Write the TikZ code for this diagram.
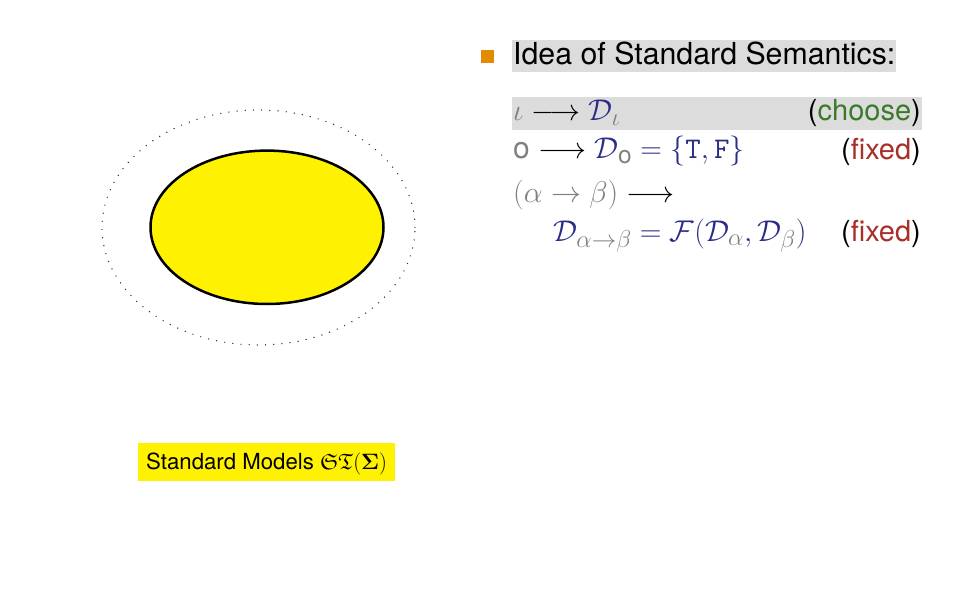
\RequirePackage{fix-cm}
\documentclass[tikz,border=0pt]{standalone}
\usepackage{amsmath,amssymb}
\usepackage[no-math]{fontspec}
\setmainfont{TeX Gyre Heros}
\usetikzlibrary{shapes.geometric}
\DeclareMathSizes{30}{30}{24.5}{18}
\DeclareMathSizes{22.2}{22.2}{16}{12}
\definecolor{ellyellow}{HTML}{FFF200}
\definecolor{hlgray}{HTML}{DCDCDC}
\definecolor{bulorange}{HTML}{E08B00}
\definecolor{tgray}{HTML}{808080}
\definecolor{dblue}{HTML}{2B2B88}
\definecolor{cgreen}{HTML}{3B7A2B}
\definecolor{fred}{HTML}{A83028}
\newcommand\ty[1]{{\color{tgray}#1}}
\newcommand\dd[1]{{\color{dblue}#1}}
\tikzset{
  bodytext/.style={inner sep=0pt, font=\fontsize{29}{34}\selectfont},
  mathtext/.style={inner sep=0pt, font=\fontsize{30}{36}\selectfont},
  dottedell/.style={ellipse, draw=black!85, line width=1.4pt, line cap=round, dash pattern=on 0pt off 8.2pt, inner sep=0pt},
  modelell/.style={ellipse, draw=black, line width=2.5pt, fill=ellyellow, inner sep=0pt}
}
\begin{document}
\begin{tikzpicture}[x=1pt,y=-1pt]
\useasboundingbox (0,0) rectangle (975,591);
% left part
\node[dottedell, minimum width=313pt, minimum height=235pt] (outer) at (258.5,227.5) {};
\node[modelell, minimum width=233pt, minimum height=153.4pt] (models) at (267,227.3) {};
\node[fill=ellyellow, inner xsep=8pt, inner ysep=0pt, text height=26pt, text depth=12pt, anchor=base west, font=\fontsize{22.2}{26}\selectfont] (lbl) at (138,469) {Standard Models $\mathfrak{ST}(\mathbf{\Sigma})$};
% right part
\node[fill=bulorange, minimum size=13pt, inner sep=0pt] (bullet) at (487.5,56.5) {};
\node[fill=hlgray, inner xsep=1pt, inner ysep=0pt, text height=25pt, text depth=7pt, anchor=base west, font=\fontsize{30.3}{36}\selectfont] (head) at (512,65) {Idea of Standard Semantics:};
\node[fill=hlgray, minimum width=410pt, minimum height=33pt, inner sep=0pt, anchor=north west] (rowbg) at (512,97) {};
\node[mathtext, anchor=base west] (r1) at (513,121) {$\ty{\iota}\longrightarrow\dd{\mathcal{D}_{\ty{\iota}}}$};
\node[bodytext, anchor=base east] (c1) at (921,121) {(\textcolor{cgreen}{choose})};
\node[mathtext, anchor=base west] (r2) at (513,159) {$\ty{\text{o}}\longrightarrow\dd{\mathcal{D}_{\ty{\text{o}}}=\{\mathtt{T},\mathtt{F}\}}$};
\node[bodytext, anchor=base east] (c2) at (921,160) {(\textcolor{fred}{fixed})};
\node[mathtext, anchor=base west] (r3) at (513,202) {$\ty{(\alpha\rightarrow\beta)}\longrightarrow$};
\node[mathtext, anchor=base west] (r4) at (553,241) {$\dd{\mathcal{D}_{\ty{\alpha\rightarrow\beta}}=\mathcal{F}(\mathcal{D}_{\ty{\alpha}},\mathcal{D}_{\ty{\beta}})}$};
\node[bodytext, anchor=base east] (c4) at (921,241) {(\textcolor{fred}{fixed})};
\end{tikzpicture}
\end{document}
